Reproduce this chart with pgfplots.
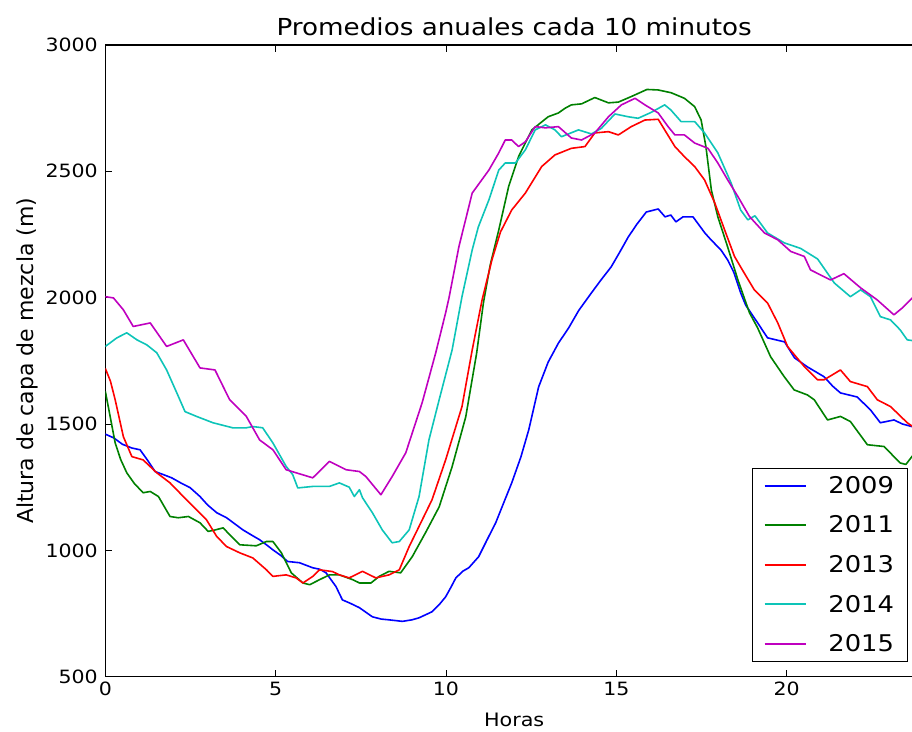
\documentclass[border=0pt]{standalone}
\usepackage{pgfplots}
\pgfplotsset{compat=1.18}
\usepackage{fontspec}
\setmainfont{DejaVu Sans}[FakeStretch=1.12]
\newfontfamily\ylabfont{DejaVu Sans}

\definecolor{c09}{rgb}{0,0,1}
\definecolor{c11}{rgb}{0,0.5,0}
\definecolor{c13}{rgb}{1,0,0}
\definecolor{c14}{rgb}{0.05,0.77,0.72}
\definecolor{c15}{rgb}{0.75,0,0.75}

\begin{document}
\begin{tikzpicture}
\begin{axis}[
  name=ax,
  scale only axis,
  width=806.7pt, height=631.7pt,
  xmin=0, xmax=23.68, ymin=500, ymax=3000,
  enlargelimits=false,
  axis x line=box, axis y line=left,
  axis line style={-, line width=1.2pt, black},
  xtick={0,5,10,15,20},
  ytick={500,1000,1500,2000,2500,3000},
  tick align=inside,
  major tick length=7pt,
  tick style={black, line width=0.8pt},
  /pgf/number format/assume math mode=true,
  /pgf/number format/1000 sep={},
  ticklabel style={font=\fontsize{18.3}{20}\selectfont},
  yticklabel style={xshift=-4pt},
  xticklabel style={yshift=-2pt},
  title={Promedios anuales cada 10 minutos},
  title style={at={(0.5068,1)}, anchor=base, yshift=3pt,
    font=\fontsize{23.4}{26}\selectfont},
  xlabel={Horas},
  xlabel style={at={(0.5068,0)}, anchor=base, yshift=-50pt,
    font=\fontsize{18.5}{20}\selectfont},
  ylabel={Altura de capa de mezcla (m)},
  ylabel style={at={(-0.0896,0.5)}, anchor=base,
    font=\ylabfont\fontsize{22}{24}\selectfont},
  every axis plot/.append style={line width=1.6pt, line join=round},
  legend image code/.code={
    \draw[#1, line width=2pt] (0pt,0pt) -- (41pt,0pt);
    \path (0pt,-6pt) (61pt,6pt);
  },
  legend cell align=left,
  legend style={at={(1,0)}, anchor=south east, xshift=-4pt, yshift=15pt,
    draw=black, line width=1pt, fill=white,
    font=\fontsize{23}{23}\selectfont,
    inner xsep=11.5pt, inner ysep=6pt, row sep=17pt},
]

% 2009
\addplot[c09] coordinates {
(0,1460) (0.25,1445) (0.5,1420) (0.78,1405) (1.02,1398) (1.25,1355) (1.46,1312)
(1.7,1300) (1.95,1287) (2.2,1268) (2.49,1248) (2.78,1213) (3.0,1180) (3.27,1149)
(3.56,1129) (3.8,1105) (4.04,1081) (4.3,1060) (4.53,1042) (4.75,1020) (4.92,1002)
(5.15,980) (5.35,956) (5.7,951) (6.09,931) (6.3,925) (6.48,911) (6.77,857)
(6.96,804) (7.2,790) (7.46,773) (7.84,737) (8.1,728) (8.33,725) (8.72,719)
(9.0,725) (9.21,733) (9.4,745) (9.59,757) (9.8,785) (9.99,816) (10.15,855)
(10.29,891) (10.5,918) (10.67,931) (10.96,975) (11.2,1040) (11.46,1109)
(11.7,1190) (11.93,1267) (12.2,1370) (12.43,1477) (12.72,1647) (13.0,1745)
(13.3,1820) (13.6,1880) (13.9,1950) (14.27,2019) (14.55,2070) (14.85,2122)
(15.1,2180) (15.35,2240) (15.6,2290) (15.88,2339) (16.23,2351) (16.43,2320)
(16.6,2327) (16.75,2300) (16.96,2320) (17.25,2320) (17.6,2256) (17.78,2229)
(18.07,2189) (18.27,2149) (18.45,2100) (18.65,2019) (18.8,1970) (19.0,1930)
(19.15,1900) (19.44,1841) (19.94,1825) (20.23,1762) (20.61,1726) (21.1,1687)
(21.35,1650) (21.58,1623) (22.07,1607) (22.46,1556) (22.75,1505) (23.15,1516)
(23.4,1500) (23.7,1489)
};
\addlegendentry{2009}

% 2011
\addplot[c11] coordinates {
(0,1630) (0.1,1560) (0.29,1425) (0.45,1360) (0.63,1307) (0.85,1265) (1.11,1228)
(1.32,1233) (1.56,1213) (1.9,1134) (2.14,1129) (2.44,1134) (2.78,1109) (3.02,1075)
(3.2,1080) (3.46,1089) (3.7,1055) (3.95,1022) (4.43,1018) (4.73,1035) (4.92,1035)
(5.17,990) (5.46,911) (5.8,871) (6.0,864) (6.29,884) (6.58,903) (6.87,903)
(7.26,884) (7.46,871) (7.8,871) (8.04,897) (8.33,917) (8.67,911) (9.01,975)
(9.4,1070) (9.8,1172) (10.18,1331) (10.58,1528) (10.9,1780) (11.1,1980)
(11.3,2130) (11.55,2268) (11.84,2440) (12.13,2558) (12.52,2664) (13.0,2716)
(13.3,2731) (13.5,2750) (13.68,2763) (13.98,2767) (14.37,2792) (14.77,2771)
(15.06,2774) (15.44,2796) (15.9,2824) (16.23,2822) (16.61,2811) (17.0,2789)
(17.3,2756) (17.49,2703) (17.63,2598) (17.79,2426) (17.98,2320) (18.27,2200)
(18.57,2070) (18.91,1940) (19.15,1880) (19.53,1766) (19.93,1687) (20.22,1635)
(20.61,1615) (20.81,1596) (21.2,1516) (21.58,1530) (21.87,1510) (22.37,1418)
(22.86,1411) (23.33,1346) (23.5,1340) (23.7,1375)
};
\addlegendentry{2011}

% 2013
\addplot[c13] coordinates {
(0,1720) (0.15,1670) (0.29,1596) (0.53,1450) (0.78,1371) (1.11,1358) (1.51,1307)
(1.9,1267) (2.29,1213) (2.68,1160) (2.97,1121) (3.27,1055) (3.56,1015) (3.95,990)
(4.33,970) (4.73,923) (4.92,897) (5.31,903) (5.6,891) (5.8,871) (6.09,897)
(6.29,923) (6.67,916) (6.87,903) (7.16,891) (7.55,917) (7.94,891) (8.33,903)
(8.63,923) (8.92,1015) (9.21,1095) (9.59,1200) (9.99,1358) (10.47,1569)
(10.77,1793) (11.06,1991) (11.35,2150) (11.6,2260) (11.93,2347) (12.33,2414)
(12.81,2519) (13.2,2565) (13.68,2591) (14.08,2598) (14.37,2652) (14.77,2657)
(15.06,2644) (15.44,2677) (15.84,2703) (16.23,2706) (16.42,2664) (16.72,2598)
(17.0,2558) (17.3,2519) (17.59,2466) (17.89,2375) (18.18,2268) (18.47,2163)
(18.7,2110) (19.05,2031) (19.44,1979) (19.74,1900) (20.03,1806) (20.52,1727)
(20.91,1675) (21.1,1675) (21.58,1714) (21.87,1668) (22.37,1648) (22.66,1596)
(23.05,1569) (23.54,1505) (23.7,1490)
};
\addlegendentry{2013}

% 2014
\addplot[c14] coordinates {
(0,1807) (0.34,1841) (0.63,1861) (0.93,1833) (1.22,1813) (1.51,1782) (1.8,1714)
(2.1,1623) (2.34,1549) (2.68,1530) (3.16,1505) (3.74,1485) (4.14,1485) (4.33,1490)
(4.62,1485) (4.92,1425) (5.31,1332) (5.5,1300) (5.65,1247) (6.09,1253) (6.58,1253)
(6.87,1267) (7.16,1250) (7.31,1213) (7.46,1240) (7.55,1208) (7.84,1149) (8.13,1081)
(8.42,1030) (8.63,1035) (8.92,1081) (9.21,1213) (9.5,1437) (9.8,1596) (10.18,1793)
(10.47,2004) (10.77,2189) (10.95,2280) (11.26,2387) (11.55,2505) (11.74,2533)
(12.04,2533) (12.33,2585) (12.62,2664) (12.92,2684) (13.2,2664) (13.39,2637)
(13.89,2664) (14.27,2648) (14.56,2670) (14.96,2727) (15.35,2716) (15.64,2710)
(16.02,2733) (16.42,2763) (16.6,2743) (16.9,2697) (17.3,2697) (17.59,2652)
(17.98,2573) (18.37,2454) (18.65,2347) (18.86,2308) (19.07,2324) (19.44,2256)
(19.93,2217) (20.41,2195) (20.91,2153) (21.4,2058) (21.87,2004) (22.17,2031)
(22.46,2004) (22.75,1925) (23.05,1912) (23.33,1873) (23.54,1833) (23.7,1830)
};
\addlegendentry{2014}

% 2015
\addplot[c15] coordinates {
(0,2004) (0.24,1999) (0.53,1952) (0.82,1886) (1.32,1900) (1.8,1807) (2.29,1833)
(2.78,1722) (3.22,1714) (3.65,1596) (4.14,1530) (4.53,1437) (4.92,1398) (5.31,1319)
(5.6,1307) (6.09,1287) (6.58,1352) (7.07,1319) (7.46,1312) (7.65,1292) (8.09,1220)
(8.42,1292) (8.82,1386) (9.3,1584) (9.7,1782) (9.99,1940) (10.09,2000)
(10.38,2202) (10.77,2414) (11.26,2505) (11.55,2573) (11.74,2624) (11.93,2624)
(12.13,2598) (12.33,2617) (12.62,2677) (12.92,2672) (13.3,2677) (13.68,2632)
(13.98,2624) (14.37,2652) (14.77,2716) (15.15,2763) (15.55,2789) (15.84,2763)
(16.23,2731) (16.52,2677) (16.72,2644) (17.0,2644) (17.3,2612) (17.69,2591)
(17.98,2533) (18.27,2466) (18.57,2400) (18.91,2321) (19.35,2256) (19.74,2229)
(20.12,2183) (20.52,2163) (20.7,2110) (21.29,2070) (21.68,2095) (22.17,2039)
(22.66,1991) (23.15,1932) (23.4,1960) (23.7,2000)
};
\addlegendentry{2015}

\end{axis}
\pgfresetboundingbox
\path[use as bounding box] ([xshift=-105.3pt,yshift=-55.3pt]ax.south west)
  rectangle ([yshift=45pt]ax.north east);
\end{tikzpicture}
\end{document}
